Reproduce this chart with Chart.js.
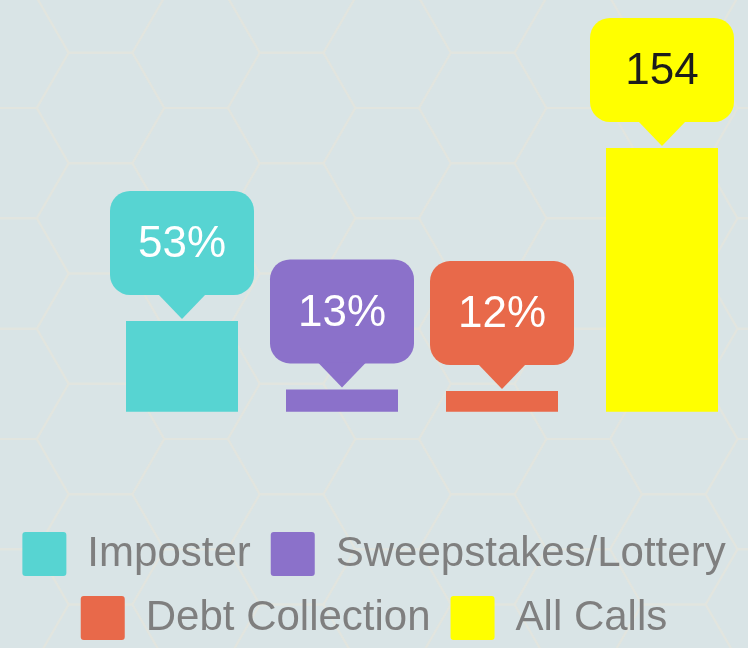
<!DOCTYPE html>
<html>
<head>
<meta charset="utf-8">
<script src="https://cdn.jsdelivr.net/npm/chart.js@4.4.1/dist/chart.umd.min.js"></script>
<style>
  html, body { margin: 0; padding: 0; overflow: hidden; background: #d9e4e6; }
  #wrap { width: 748px; height: 650px; }
</style>
</head>
<body>
<div id="wrap"><canvas id="callChart" width="748" height="650"></canvas></div>
<script>
// chart data
const categories = ["Imposter", "Sweepstakes/Lottery", "Debt Collection", "All Calls"];
const callCounts = [53, 13, 12, 154];
const valueUnits = ["%", "%", "%", ""];

// styling
const barColors = ["#57d4d2", "#8b71ca", "#e8694a", "#ffff00"];
const labelColors = ["#ffffff", "#ffffff", "#ffffff", "#1c1c1c"];
const fontFamily = "'Liberation Sans', Arial, sans-serif";

// faint hexagon grid behind everything
const hexBackground = {
  id: "hexBackground",
  beforeDraw(chart) {
    const ctx = chart.ctx;
    const s = 63.7, h = s * Math.sqrt(3);
    ctx.save();
    ctx.fillStyle = "#d9e4e6";
    ctx.fillRect(0, 0, chart.width, chart.height);
    ctx.strokeStyle = "#e2e5df";
    ctx.lineWidth = 2;
    for (let col = -1; col < chart.width / (1.5 * s) + 1; col++) {
      const cx = 100.5 + col * 1.5 * s;
      const offY = Math.abs(col) % 2 === 0 ? 0 : h / 2;
      for (let row = -1; row < chart.height / h + 1; row++) {
        const cy = 108 + offY + row * h;
        ctx.beginPath();
        for (let k = 0; k <= 6; k++) {
          const a = (Math.PI / 3) * k;
          const px = cx + s * Math.cos(a), py = cy + s * Math.sin(a);
          if (k === 0) ctx.moveTo(px, py); else ctx.lineTo(px, py);
        }
        ctx.stroke();
      }
    }
    ctx.restore();
  }
};

// speech-bubble value labels above each bar
const callouts = {
  id: "callouts",
  afterDatasetsDraw(chart) {
    const ctx = chart.ctx;
    const meta = chart.getDatasetMeta(0);
    ctx.save();
    meta.data.forEach((bar, i) => {
      const tipY = bar.y - 2;
      const boxBottom = tipY - 24;
      const boxTop = boxBottom - 104;
      const w = 144, r = 20, half = 24;
      ctx.fillStyle = barColors[i];
      ctx.beginPath();
      ctx.roundRect(bar.x - w / 2, boxTop, w, boxBottom - boxTop, r);
      ctx.fill();
      ctx.beginPath();
      ctx.moveTo(bar.x - half, boxBottom - 1);
      ctx.lineTo(bar.x + half, boxBottom - 1);
      ctx.lineTo(bar.x, tipY);
      ctx.closePath();
      ctx.fill();
      ctx.fillStyle = labelColors[i];
      ctx.font = "44px " + fontFamily;
      ctx.textAlign = "center";
      ctx.textBaseline = "middle";
      ctx.fillText(callCounts[i] + valueUnits[i], bar.x, (boxTop + boxBottom) / 2 + 2);
    });
    ctx.restore();
  }
};

new Chart(document.getElementById("callChart"), {
  type: "bar",
  data: {
    labels: categories,
    datasets: [{
      data: callCounts,
      backgroundColor: barColors,
      borderWidth: 0,
      categoryPercentage: 0.7,
      barPercentage: 1
    }]
  },
  options: {
    responsive: false,
    animation: false,
    events: [],
    layout: { padding: 0 },
    plugins: {
      tooltip: { enabled: false },
      legend: {
        position: "bottom",
        labels: {
          boxWidth: 44,
          boxHeight: 44,
          padding: 20,
          color: "#7f7f7f",
          font: { family: fontFamily, size: 42 },
          useBorderRadius: true,
          borderRadius: 3,
          generateLabels: (chart) => chart.data.labels.map((text, i) => ({
            text,
            fillStyle: barColors[i],
            strokeStyle: barColors[i],
            lineWidth: 0,
            hidden: false,
            index: i,
            fontColor: "#7f7f7f",
            borderRadius: 3
          }))
        }
      }
    },
    scales: {
      x: { display: false },
      y: {
        position: "left",
        min: -58.6,
        max: 240.4,
        grid: { display: false },
        border: { display: false },
        ticks: { display: false },
        afterFit: (scale) => { scale.width = 102; }
      },
      yRight: {
        position: "right",
        min: 0,
        max: 1,
        grid: { display: false },
        border: { display: false },
        ticks: { display: false },
        afterFit: (scale) => { scale.width = 6; }
      }
    }
  },
  plugins: [hexBackground, callouts]
});
</script>
</body>
</html>
